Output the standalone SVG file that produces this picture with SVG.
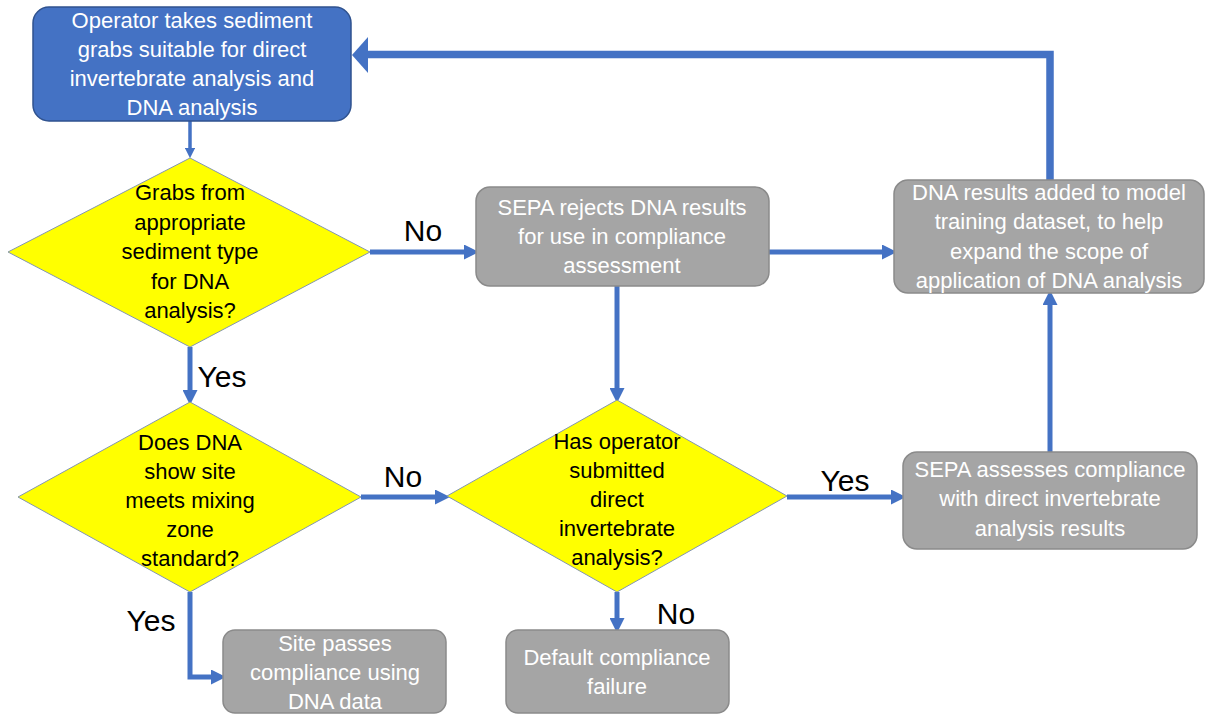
<svg xmlns="http://www.w3.org/2000/svg" width="1205" height="715" viewBox="0 0 1205 715">
<style>
.t{font-family:"Liberation Sans",Arial,sans-serif;font-size:22px;text-anchor:middle}
.w{fill:#ffffff}
.k{fill:#000000}
.lbl{font-family:"Liberation Sans",Arial,sans-serif;font-size:30px;fill:#000}
.gray{fill:#a5a5a5;stroke:#8a8a8a;stroke-width:1.5}
.blue{fill:#4472c4;stroke:#2f528f;stroke-width:1.5}
.dia{fill:#ffff00;stroke:#8496b0;stroke-width:1}
.c{fill:none;stroke:#4472c4;stroke-width:5}
</style>
<defs>
<marker id="ah" markerWidth="3" markerHeight="3" refX="1.2" refY="1.5" orient="auto" markerUnits="strokeWidth">
<path d="M0,0 L3,1.5 L0,3 z" fill="#4472c4"/>
</marker>
</defs>
<g id="connectors">
<path class="c" d="M190,121 L190,152" style="stroke-width:3.5" marker-end="url(#ah)"/>
<path class="c" d="M190,347 L190,396" marker-end="url(#ah)"/>
<path class="c" d="M370,252 L470,252" marker-end="url(#ah)"/>
<path class="c" d="M617,286 L617,394" marker-end="url(#ah)"/>
<path class="c" d="M769,252 L888,252" marker-end="url(#ah)"/>
<path class="c" d="M361,497 L441,497" marker-end="url(#ah)"/>
<path class="c" d="M787,497 L897,497" marker-end="url(#ah)"/>
<path class="c" d="M617,592 L617,624" marker-end="url(#ah)"/>
<path class="c" d="M190,592 L190,677 L217,677" marker-end="url(#ah)"/>
<path class="c" d="M1050,452 L1050,299" marker-end="url(#ah)"/>
<path class="c" d="M1050,180 L1050,54.5 L366,54.5" style="stroke-width:7.5"/>
<path d="M352,55 L368,37 L368,73 z" fill="#4472c4"/>
<text class="lbl" x="423" y="241" text-anchor="middle">No</text>
<text class="lbl" x="222" y="387" text-anchor="middle">Yes</text>
<text class="lbl" x="403" y="487" text-anchor="middle">No</text>
<text class="lbl" x="845" y="491" text-anchor="middle">Yes</text>
<text class="lbl" x="676" y="624" text-anchor="middle">No</text>
<text class="lbl" x="151" y="631" text-anchor="middle">Yes</text>
</g>
<g id="start">
<rect class="blue" x="33" y="7" width="318" height="114" rx="16"/>
<text class="t w" x="192" y="28">Operator takes sediment</text>
<text class="t w" x="192" y="57">grabs suitable for direct</text>
<text class="t w" x="192" y="86">invertebrate analysis and</text>
<text class="t w" x="192" y="115">DNA analysis</text>
</g>
<g id="d1">
<polygon class="dia" points="190,158 370,252 190,347 8,252"/>
<text class="t k" x="190" y="200">Grabs from</text>
<text class="t k" x="190" y="230">appropriate</text>
<text class="t k" x="190" y="259">sediment type</text>
<text class="t k" x="190" y="289">for DNA</text>
<text class="t k" x="190" y="318">analysis?</text>
</g>
<g id="d2">
<polygon class="dia" points="190,402 361,497 190,592 18,497"/>
<text class="t k" x="190" y="450">Does DNA</text>
<text class="t k" x="190" y="479">show site</text>
<text class="t k" x="190" y="508">meets mixing</text>
<text class="t k" x="190" y="537">zone</text>
<text class="t k" x="190" y="566">standard?</text>
</g>
<g id="d3">
<polygon class="dia" points="617,400 787,496 617,592 447,496"/>
<text class="t k" x="617" y="449">Has operator</text>
<text class="t k" x="617" y="478">submitted</text>
<text class="t k" x="617" y="507">direct</text>
<text class="t k" x="617" y="536">invertebrate</text>
<text class="t k" x="617" y="565">analysis?</text>
</g>
<g id="reject">
<rect class="gray" x="476" y="187" width="293" height="99" rx="14"/>
<text class="t w" x="622" y="215">SEPA rejects DNA results</text>
<text class="t w" x="622" y="244">for use in compliance</text>
<text class="t w" x="622" y="273">assessment</text>
</g>
<g id="training">
<rect class="gray" x="894" y="180" width="310" height="113" rx="14"/>
<text class="t w" x="1049" y="200">DNA results added to model</text>
<text class="t w" x="1049" y="229">training dataset, to help</text>
<text class="t w" x="1049" y="259">expand the scope of</text>
<text class="t w" x="1049" y="288">application of DNA analysis</text>
</g>
<g id="assess">
<rect class="gray" x="903" y="452" width="294" height="97" rx="14"/>
<text class="t w" x="1050" y="477">SEPA assesses compliance</text>
<text class="t w" x="1050" y="506">with direct invertebrate</text>
<text class="t w" x="1050" y="536">analysis results</text>
</g>
<g id="pass">
<rect class="gray" x="223" y="630" width="223" height="83" rx="12"/>
<text class="t w" x="335" y="651">Site passes</text>
<text class="t w" x="335" y="680">compliance using</text>
<text class="t w" x="335" y="709">DNA data</text>
</g>
<g id="fail">
<rect class="gray" x="506" y="630" width="223" height="83" rx="12"/>
<text class="t w" x="617" y="665">Default compliance</text>
<text class="t w" x="617" y="694">failure</text>
</g>
</svg>
